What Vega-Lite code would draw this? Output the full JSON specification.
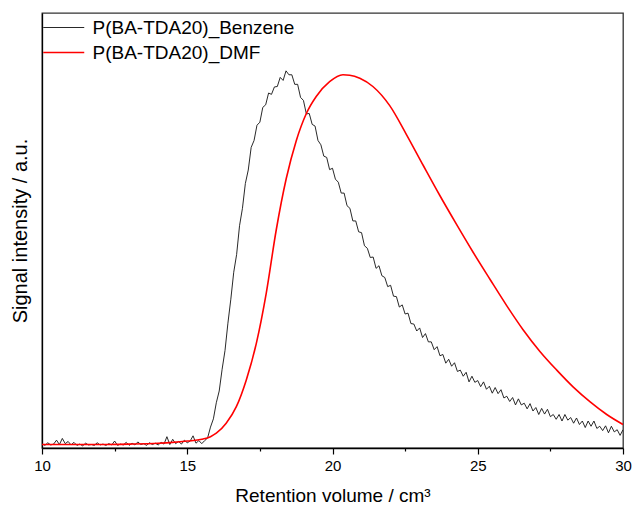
{
  "$schema": "https://vega.github.io/schema/vega-lite/v6.json",
  "width": 581,
  "height": 435,
  "autosize": {"type": "none"},
  "padding": {"left": 42, "top": 13, "right": 10, "bottom": 57},
  "background": "white",
  "config": {
    "font": "Liberation Sans",
    "view": {"stroke": "#333333", "strokeWidth": 1.3},
    "axis": {"grid": false, "domainColor": "#000000", "domainWidth": 1.3, "tickColor": "#000000", "tickWidth": 1.2, "labelColor": "#000000", "titleColor": "#000000", "titleFontWeight": "normal"}
  },
  "datasets": {
    "benzene": [
      {"v":10.0,"s":0.010},{"v":10.1,"s":0.006},{"v":10.2,"s":0.012},{"v":10.3,"s":0.007},{"v":10.4,"s":0.009},{"v":10.5,"s":0.018},{"v":10.6,"s":0.008},{"v":10.7,"s":0.022},{"v":10.8,"s":0.010},{"v":10.9,"s":0.015},
      {"v":11.0,"s":0.007},{"v":11.1,"s":0.013},{"v":11.2,"s":0.006},{"v":11.3,"s":0.009},{"v":11.4,"s":0.005},{"v":11.5,"s":0.011},{"v":11.6,"s":0.007},{"v":11.7,"s":0.008},{"v":11.8,"s":0.006},{"v":11.9,"s":0.012},
      {"v":12.0,"s":0.007},{"v":12.1,"s":0.009},{"v":12.2,"s":0.006},{"v":12.3,"s":0.010},{"v":12.4,"s":0.007},{"v":12.5,"s":0.016},{"v":12.6,"s":0.006},{"v":12.7,"s":0.009},{"v":12.8,"s":0.007},{"v":12.9,"s":0.013},
      {"v":13.0,"s":0.006},{"v":13.1,"s":0.011},{"v":13.2,"s":0.007},{"v":13.3,"s":0.014},{"v":13.4,"s":0.008},{"v":13.5,"s":0.010},{"v":13.6,"s":0.006},{"v":13.7,"s":0.012},{"v":13.8,"s":0.008},{"v":13.9,"s":0.011},
      {"v":14.0,"s":0.007},{"v":14.1,"s":0.013},{"v":14.2,"s":0.009},{"v":14.3,"s":0.026},{"v":14.4,"s":0.008},{"v":14.5,"s":0.020},{"v":14.6,"s":0.010},{"v":14.7,"s":0.015},{"v":14.8,"s":0.009},{"v":14.9,"s":0.018},
      {"v":15.0,"s":0.012},{"v":15.1,"s":0.016},{"v":15.2,"s":0.028},{"v":15.3,"s":0.011},{"v":15.4,"s":0.017},{"v":15.5,"s":0.010},{"v":15.6,"s":0.017},{"v":15.7,"s":0.023},{"v":15.8,"s":0.048},{"v":15.9,"s":0.067},
      {"v":16.0,"s":0.104},{"v":16.1,"s":0.131},{"v":16.2,"s":0.181},{"v":16.3,"s":0.224},{"v":16.4,"s":0.287},{"v":16.5,"s":0.342},{"v":16.6,"s":0.404},{"v":16.7,"s":0.445},{"v":16.8,"s":0.511},{"v":16.9,"s":0.551},
      {"v":17.0,"s":0.608},{"v":17.1,"s":0.639},{"v":17.2,"s":0.691},{"v":17.3,"s":0.707},{"v":17.4,"s":0.742},{"v":17.5,"s":0.749},{"v":17.6,"s":0.783},{"v":17.7,"s":0.789},{"v":17.8,"s":0.816},{"v":17.9,"s":0.813},
      {"v":18.0,"s":0.830},{"v":18.1,"s":0.831},{"v":18.2,"s":0.852},{"v":18.3,"s":0.845},{"v":18.4,"s":0.867},{"v":18.5,"s":0.858},{"v":18.6,"s":0.858},{"v":18.7,"s":0.836},{"v":18.8,"s":0.836},{"v":18.9,"s":0.806},
      {"v":19.0,"s":0.799},{"v":19.1,"s":0.768},{"v":19.2,"s":0.769},{"v":19.3,"s":0.744},{"v":19.4,"s":0.740},{"v":19.5,"s":0.707},{"v":19.6,"s":0.697},{"v":19.7,"s":0.671},{"v":19.8,"s":0.668},{"v":19.9,"s":0.640},
      {"v":20.0,"s":0.643},{"v":20.1,"s":0.618},{"v":20.2,"s":0.611},{"v":20.3,"s":0.586},{"v":20.4,"s":0.586},{"v":20.5,"s":0.557},{"v":20.6,"s":0.551},{"v":20.7,"s":0.522},{"v":20.8,"s":0.522},{"v":20.9,"s":0.497},
      {"v":21.0,"s":0.495},{"v":21.1,"s":0.465},{"v":21.2,"s":0.459},{"v":21.3,"s":0.438},{"v":21.4,"s":0.439},{"v":21.5,"s":0.413},{"v":21.6,"s":0.419},{"v":21.7,"s":0.396},{"v":21.8,"s":0.392},{"v":21.9,"s":0.371},
      {"v":22.0,"s":0.374},{"v":22.1,"s":0.349},{"v":22.2,"s":0.348},{"v":22.3,"s":0.324},{"v":22.4,"s":0.329},{"v":22.5,"s":0.308},{"v":22.6,"s":0.310},{"v":22.7,"s":0.286},{"v":22.8,"s":0.285},{"v":22.9,"s":0.269},
      {"v":23.0,"s":0.276},{"v":23.1,"s":0.254},{"v":23.2,"s":0.263},{"v":23.3,"s":0.244},{"v":23.4,"s":0.244},{"v":23.5,"s":0.226},{"v":23.6,"s":0.233},{"v":23.7,"s":0.212},{"v":23.8,"s":0.215},{"v":23.9,"s":0.195},
      {"v":24.0,"s":0.204},{"v":24.1,"s":0.188},{"v":24.2,"s":0.196},{"v":24.3,"s":0.176},{"v":24.4,"s":0.179},{"v":24.5,"s":0.165},{"v":24.6,"s":0.174},{"v":24.7,"s":0.152},{"v":24.8,"s":0.165},{"v":24.9,"s":0.151},
      {"v":25.0,"s":0.155},{"v":25.1,"s":0.141},{"v":25.2,"s":0.152},{"v":25.3,"s":0.135},{"v":25.4,"s":0.142},{"v":25.5,"s":0.126},{"v":25.6,"s":0.139},{"v":25.7,"s":0.125},{"v":25.8,"s":0.134},{"v":25.9,"s":0.115},
      {"v":26.0,"s":0.119},{"v":26.1,"s":0.107},{"v":26.2,"s":0.116},{"v":26.3,"s":0.099},{"v":26.4,"s":0.113},{"v":26.5,"s":0.099},{"v":26.6,"s":0.103},{"v":26.7,"s":0.090},{"v":26.8,"s":0.102},{"v":26.9,"s":0.085},
      {"v":27.0,"s":0.093},{"v":27.1,"s":0.077},{"v":27.2,"s":0.091},{"v":27.3,"s":0.078},{"v":27.4,"s":0.089},{"v":27.5,"s":0.072},{"v":27.6,"s":0.077},{"v":27.7,"s":0.066},{"v":27.8,"s":0.077},{"v":27.9,"s":0.062},
      {"v":28.0,"s":0.077},{"v":28.1,"s":0.064},{"v":28.2,"s":0.070},{"v":28.3,"s":0.057},{"v":28.4,"s":0.069},{"v":28.5,"s":0.054},{"v":28.6,"s":0.062},{"v":28.7,"s":0.047},{"v":28.8,"s":0.062},{"v":28.9,"s":0.050},
      {"v":29.0,"s":0.062},{"v":29.1,"s":0.045},{"v":29.2,"s":0.050},{"v":29.3,"s":0.040},{"v":29.4,"s":0.051},{"v":29.5,"s":0.035},{"v":29.6,"s":0.050},{"v":29.7,"s":0.037},{"v":29.8,"s":0.042},{"v":29.9,"s":0.029},
      {"v":30.0,"s":0.042}
    ],
    "dmf": [
      {"v":10.0,"s":0.008},{"v":11.0,"s":0.008},{"v":12.0,"s":0.008},{"v":13.0,"s":0.009},{"v":14.0,"s":0.011},{"v":14.5,"s":0.013},{"v":15.0,"s":0.016},{"v":15.5,"s":0.020},{"v":15.8,"s":0.026},{"v":16.0,"s":0.034},
      {"v":16.34,"s":0.057},{"v":16.69,"s":0.095},{"v":17.03,"s":0.156},{"v":17.38,"s":0.241},{"v":17.72,"s":0.356},{"v":18.06,"s":0.500},{"v":18.41,"s":0.620},{"v":18.75,"s":0.706},{"v":19.10,"s":0.769},{"v":19.44,"s":0.808},
      {"v":19.90,"s":0.842},{"v":20.36,"s":0.858},{"v":20.59,"s":0.857},{"v":20.94,"s":0.850},{"v":21.39,"s":0.831},{"v":21.97,"s":0.787},{"v":22.55,"s":0.720},{"v":23.12,"s":0.650},{"v":23.69,"s":0.581},{"v":24.27,"s":0.514},
      {"v":24.84,"s":0.450},{"v":25.42,"s":0.388},{"v":25.99,"s":0.328},{"v":26.56,"s":0.272},{"v":27.14,"s":0.222},{"v":27.72,"s":0.179},{"v":28.29,"s":0.140},{"v":28.87,"s":0.106},{"v":29.44,"s":0.077},{"v":30.0,"s":0.054}
    ]
  },
  "encoding": {
    "x": {
      "field": "v", "type": "quantitative",
      "scale": {"domain": [10, 30], "nice": false, "zero": false},
      "axis": {
        "title": "Retention volume / cm³",
        "values": [10, 12.5, 15, 17.5, 20, 22.5, 25, 27.5, 30],
        "labelExpr": "datum.value % 5 === 0 ? format(datum.value, 'd') : ''",
        "labelOverlap": false,
        "labelFlush": false,
        "tickSize": {"condition": {"test": "datum.value % 5 === 0", "value": 6}, "value": 3},
        "labelFontSize": 15,
        "labelPadding": 4,
        "titleFontSize": 19,
        "titlePadding": 13
      }
    },
    "y": {
      "field": "s", "type": "quantitative",
      "scale": {"domain": [0, 1], "nice": false},
      "axis": {
        "title": "Signal intensity / a.u.",
        "ticks": false, "labels": false,
        "titleFontSize": 20,
        "titlePadding": 12
      }
    },
    "color": {
      "field": "k", "type": "nominal",
      "scale": {"domain": ["P(BA-TDA20)_Benzene", "P(BA-TDA20)_DMF"], "range": ["#111111", "#ff0000"]},
      "legend": {
        "title": null,
        "orient": "none",
        "legendX": 0,
        "legendY": 3.5,
        "padding": 0,
        "symbolType": "M-1,0H3",
        "symbolSize": 420,
        "symbolStrokeWidth": 1.3,
        "labelFontSize": 19,
        "labelOffset": 27.5,
        "labelColor": "#000000",
        "rowPadding": 3.5,
        "labelLimit": 400
      }
    },
    "strokeWidth": {
      "field": "k", "type": "nominal",
      "scale": {"domain": ["P(BA-TDA20)_Benzene", "P(BA-TDA20)_DMF"], "range": [0.9, 1.6]},
      "legend": null
    }
  },
  "layer": [
    {
      "data": {"name": "benzene"},
      "transform": [{"calculate": "'P(BA-TDA20)_Benzene'", "as": "k"}],
      "mark": {"type": "line", "interpolate": "linear", "clip": true}
    },
    {
      "data": {"name": "dmf"},
      "transform": [{"calculate": "'P(BA-TDA20)_DMF'", "as": "k"}],
      "mark": {"type": "line", "interpolate": "monotone", "clip": true}
    }
  ]
}
